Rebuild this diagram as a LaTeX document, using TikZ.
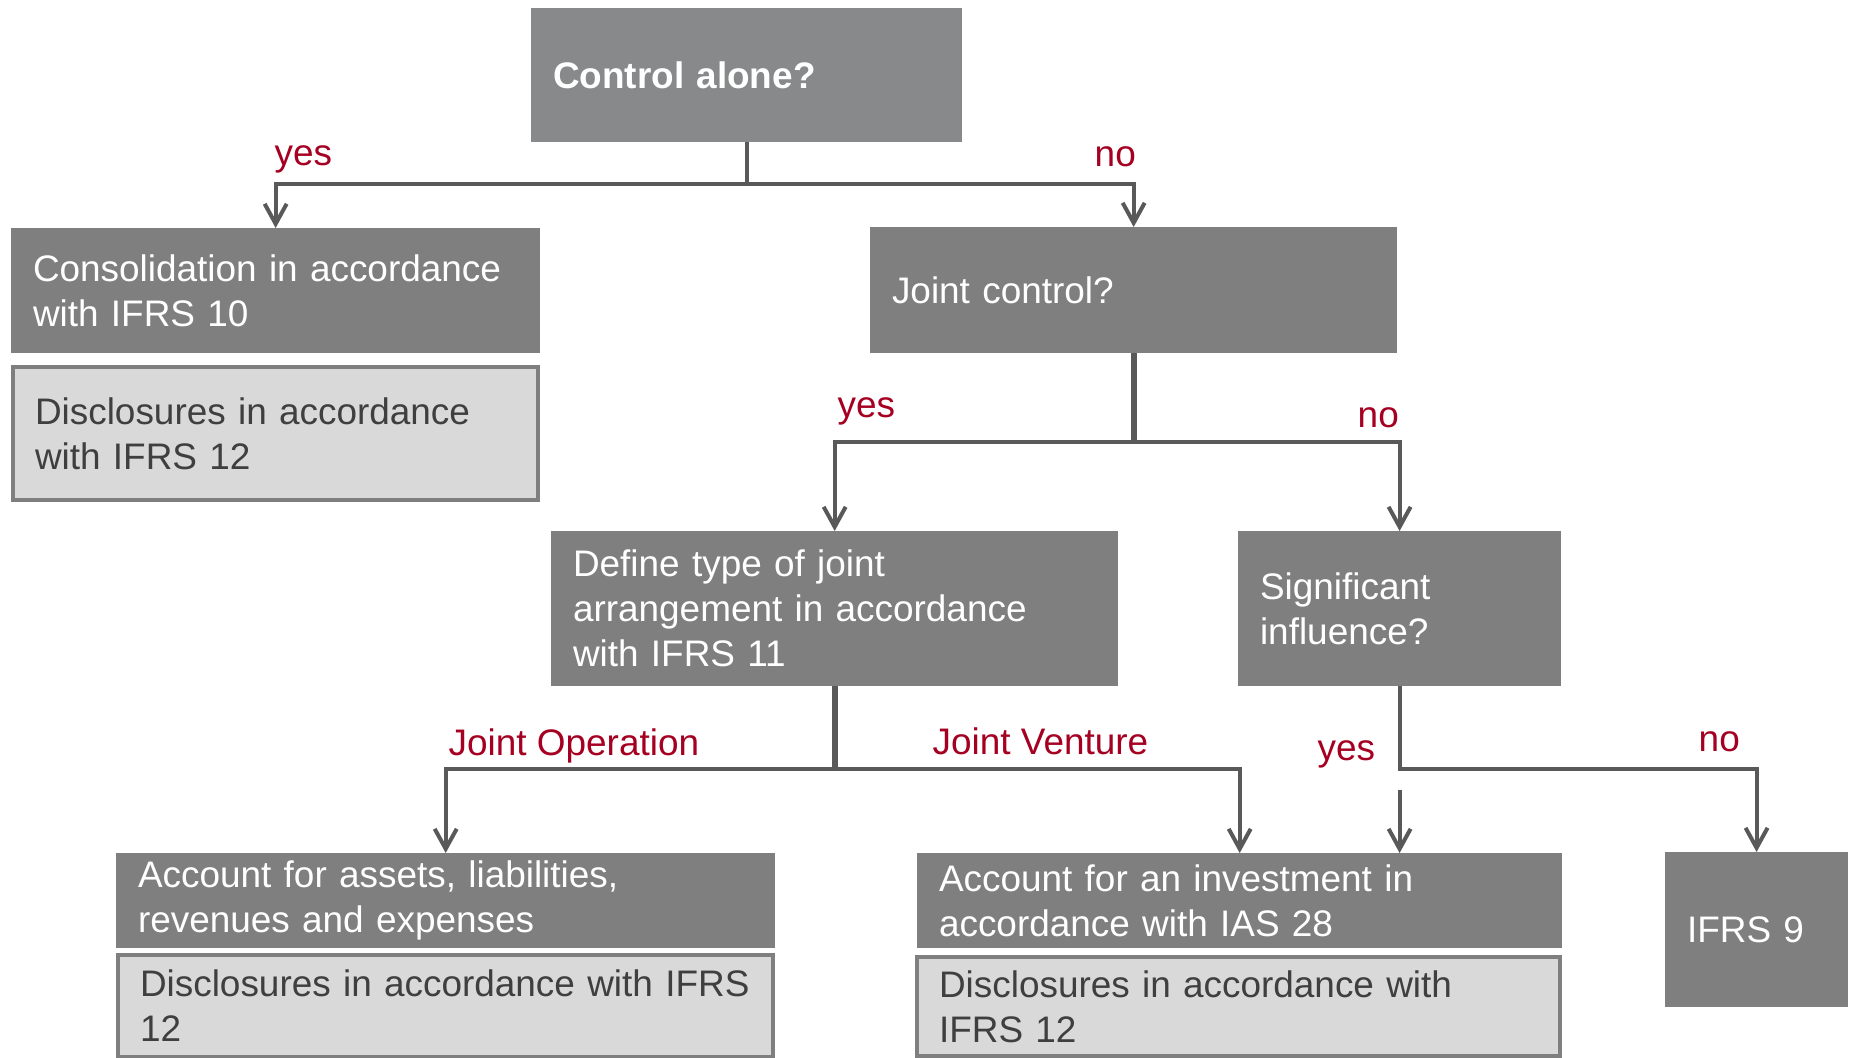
\documentclass[tikz,border=0pt]{standalone}
\usepackage{fontspec}
\setmainfont{Liberation Sans}
\usepackage{xcolor}
\usepackage{tikz}
\usetikzlibrary{arrows.meta}

\definecolor{boxgrey}{HTML}{7F7F7F}
\definecolor{topgrey}{HTML}{88898B}
\definecolor{lightgrey}{HTML}{D9D9D9}
\definecolor{linegrey}{HTML}{595959}
\definecolor{textgrey}{HTML}{3F3F3F}
\definecolor{answerred}{HTML}{A50021}

\begin{document}
\begin{tikzpicture}[x=0.01cm,y=-0.01cm,
  font=\fontsize{10.5}{12.8}\selectfont,
  box/.style={rectangle,anchor=north west,inner xsep=0.22cm,inner ysep=0pt,outer sep=0pt,align=left},
  dark/.style={box,fill=boxgrey,text=white},
  light/.style={box,fill=lightgrey,draw=boxgrey,line width=0.04cm,text=textgrey},
  answer/.style={anchor=base west,inner sep=0pt,text=answerred},
  conn/.style={draw=linegrey,line width=0.04cm},
  trunk/.style={draw=linegrey,line width=0.06cm},
  arr/.style={-{Straight Barb[length=0.2cm,width=0.22cm]}}]
\useasboundingbox (0,0) rectangle (1849,1058);

% boxes
\node[dark,fill=topgrey,text width=3.87cm,minimum height=1.34cm](ctrl) at (531,8){\textbf{Control alone?}};
\node[dark,text width=4.85cm,minimum height=1.25cm](cons) at (11,228){Consolidation in accordance\\with IFRS 10};
\node[light,text width=4.81cm,minimum height=1.33cm](disc1) at (13,367){Disclosures in accordance\\with IFRS 12};
\node[dark,text width=4.83cm,minimum height=1.26cm](joint) at (870,227){Joint control?};
\node[dark,text width=5.23cm,minimum height=1.55cm](define) at (551,531){Define type of joint\\arrangement in accordance\\with IFRS 11};
\node[dark,text width=2.79cm,minimum height=1.55cm](sig) at (1238,531){Significant\\influence?};
\node[dark,text width=6.15cm,minimum height=0.95cm](acct1) at (116,853){Account for assets, liabilities,\\revenues and expenses};
\node[light,text width=6.11cm,minimum height=1.02cm](disc2) at (118,955){Disclosures in accordance with IFRS\\12};
\node[dark,text width=6.01cm,minimum height=0.95cm](acct2) at (917,853){Account for an investment in\\accordance with IAS 28};
\node[light,text width=5.99cm,minimum height=0.99cm](disc3) at (917,957){Disclosures in accordance with\\IFRS 12};
\node[dark,text width=1.39cm,minimum height=1.55cm](ifrs9) at (1665,852){IFRS 9};

% answers
\node[answer](yes1) at (274,166){yes};
\node[answer](no1) at (1094,167){no};
\node[answer](yes2) at (837,417){yes};
\node[answer](no2) at (1357,428){no};
\node[answer](jo) at (448,755){Joint Operation};
\node[answer](jv) at (932,754){Joint Venture};
\node[answer](yes3) at (1317,760){yes};
\node[answer](no3) at (1698,751){no};

% connectors
\coordinate(c1) at (ctrl.south |- 0,184);
\draw[conn](ctrl.south)--(c1);
\draw[conn,arr](c1)-|(cons.north);
\draw[conn,arr](c1)-|(joint.north);

\coordinate(c2) at (joint.south |- 0,442);
\draw[trunk](joint.south)--(c2);
\draw[conn,arr](c2)-|(define.north);
\draw[conn,arr](c2)-|(sig.north);

\coordinate(c3) at (define.south |- 0,769);
\draw[trunk](define.south)--(c3);
\draw[conn,arr](c3)-|(acct1.north);
\draw[conn,arr](c3)-|(acct2.north);

\coordinate(c4) at (sig.south |- 0,769);
\draw[conn,arr](sig.south)--(c4)-|(ifrs9.north);
\coordinate(c5) at (sig.south |- 0,790);
\draw[conn,arr](c5)--(c5 |- acct2.north);
\end{tikzpicture}
\end{document}
